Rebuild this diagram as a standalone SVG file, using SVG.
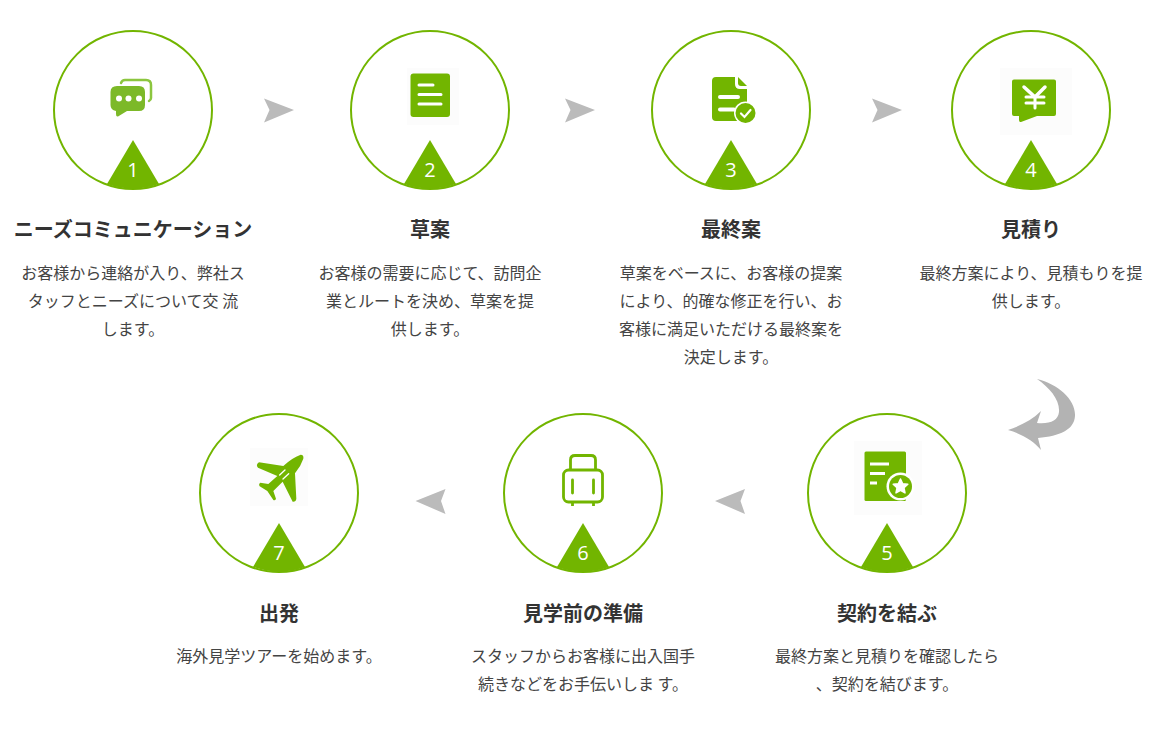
<svg xmlns="http://www.w3.org/2000/svg" width="1160" height="750" viewBox="0 0 1160 750">
<style>
.ring{fill:#fff;stroke:#72b500;stroke-width:2}
.tri{fill:#72b500}
.num{font-family:"Open Sans","Noto Sans",sans-serif;font-size:20px;fill:#fff;text-anchor:middle}
.title{font-family:"Noto Sans CJK JP","Noto Sans CJK SC",sans-serif;font-size:20px;font-weight:700;fill:#333;text-anchor:middle}
.body{font-family:"Noto Sans CJK JP","Noto Sans CJK SC",sans-serif;font-size:16px;fill:#444;text-anchor:middle}
.g{fill:#72b500}
.w{stroke:#fff;fill:none;stroke-linecap:round}
.bg{fill:#fcfcfc}
.arrow{fill:#bbb}
</style>
<defs>
<path id="badge" d="M0 30 L-26 74 A79 79 0 0 0 26 74 Z"/>
<path id="right" d="M264 98.500 L294 110 L264 122.500 L269.500 110 Z"/>
<path id="left" d="M0 0 L30 -12 L25.500 0 L30 13 Z"/>
</defs>
<g id="connectors">
<use href="#right" class="arrow"/>
<use href="#right" class="arrow" x="301"/>
<use href="#right" class="arrow" x="608"/>
<path class="arrow" style="fill:#b3b3b3" d="M1037 379 C1058 384 1076 400 1075 416 C1074 430 1060 436 1038 438 L1041 450 C1034 441 1022 434 1008 430 C1020 426 1032 420 1041 411 L1037 423 C1050 424 1058 421 1059 412 C1060 400 1050 388 1037 379 Z"/>
<use href="#left" class="arrow" x="715" y="501"/>
<use href="#left" class="arrow" x="415.500" y="501"/>
</g>
<g id="node1">
<circle class="ring" cx="133" cy="110" r="79"/>
<use href="#badge" class="tri" x="133" y="110"/>
<text class="num" x="133" y="177">1</text>
<path d="M121 83 Q122 80 125 80 H146 Q151 80 151 85 V98 Q151 100 149 101" fill="none" stroke="#8cc63f" stroke-width="2.500" stroke-linecap="round"/>
<path fill="#7cb928" d="M117 86 H139 Q145 86 145 92 V105 Q145 111 139 111 H127 L118 116.500 Q116 117 116 114 V111 Q110.500 110 110.500 105 V92 Q110.500 86 117 86 Z"/>
<circle cx="119" cy="98.500" r="3" fill="#fff"/><circle cx="128.500" cy="98.500" r="3" fill="#fff"/><circle cx="139" cy="98.500" r="3" fill="#fff"/>
<text class="title" x="133" y="237">ニーズコミュニケーション</text>
<text class="body" x="133" y="279">お客様から連絡が入り、弊社ス</text>
<text class="body" x="133" y="307">タッフとニーズについて交 流</text>
<text class="body" x="133" y="335">します。</text>
</g>
<g id="node2">
<circle class="ring" cx="430" cy="110" r="79"/>
<use href="#badge" class="tri" x="430" y="110"/>
<text class="num" x="430" y="177">2</text>
<rect class="bg" x="407" y="68" width="52" height="57"/>
<rect class="g" x="410.500" y="73.500" width="39.500" height="43.500" rx="3"/>
<path class="w" stroke-width="3" d="M419 85 H433 M419 94.500 H441 M419 104 H441"/>
<text class="title" x="430" y="237">草案</text>
<text class="body" x="430" y="279">お客様の需要に応じて、訪問企</text>
<text class="body" x="430" y="307">業とルートを決め、草案を提</text>
<text class="body" x="430" y="335">供します。</text>
</g>
<g id="node3">
<circle class="ring" cx="731" cy="110" r="79"/>
<use href="#badge" class="tri" x="731" y="110"/>
<text class="num" x="731" y="177">3</text>
<path class="g" d="M716 77 H735 V84 Q735 89 740 89 H747 V121 H716 Q712 121 712 117 V81 Q712 77 716 77 Z"/>
<path class="g" d="M738 77 L747 86 H741 Q738 86 738 83 Z"/>
<path class="w" stroke-width="4" d="M720 97 H738 M720 109.500 H734"/>
<circle cx="745.500" cy="113" r="11.500" fill="#fff"/>
<circle class="g" cx="745.500" cy="113" r="10"/>
<path class="w" stroke-width="2.200" d="M741 113.500 L744.500 117 L750.500 110"/>
<text class="title" x="731" y="237">最終案</text>
<text class="body" x="731" y="279">草案をベースに、お客様の提案</text>
<text class="body" x="731" y="307">により、的確な修正を行い、お</text>
<text class="body" x="731" y="335">客様に満足いただける最終案を</text>
<text class="body" x="731" y="363">決定します。</text>
</g>
<g id="node4">
<circle class="ring" cx="1031" cy="110" r="79"/>
<use href="#badge" class="tri" x="1031" y="110"/>
<text class="num" x="1031" y="177">4</text>
<rect class="bg" x="1000" y="68" width="72" height="67"/>
<path class="g" d="M1014 79.500 H1054 Q1056 79.500 1056 81.500 V114 Q1056 116 1054 116 H1037 L1021 122 Q1019 122.500 1019 120 V116 H1014 Q1012 116 1012 114 V81.500 Q1012 79.500 1014 79.500 Z"/>
<path class="w" stroke-width="3.500" d="M1024 87 L1035 97 L1045 87"/>
<path class="w" stroke-width="3" stroke-linecap="butt" d="M1026 97 H1044 M1026 103 H1044 M1035 97 V108"/>
<text class="title" x="1031" y="237">見積り</text>
<text class="body" x="1031" y="279">最終方案により、見積もりを提</text>
<text class="body" x="1031" y="307">供します。</text>
</g>
<g id="node5">
<circle class="ring" cx="887" cy="493" r="79"/>
<use href="#badge" class="tri" x="887" y="493"/>
<text class="num" x="887" y="560">5</text>
<rect class="bg" x="854" y="441" width="68" height="74"/>
<rect class="g" x="864.500" y="451.500" width="41.500" height="49.500" rx="1.500"/>
<path stroke="#fff" stroke-width="2.800" d="M870 464 H889 M870 473.500 H885 M870 483 H877"/>
<circle cx="900.500" cy="486.500" r="14" fill="#fff"/>
<circle class="g" cx="900.500" cy="486.500" r="11.500"/>
<path fill="#fff" stroke="#fff" stroke-linejoin="round" stroke-width="1.500" d="M900.500 479 L902.700 483.700 L907.800 484.300 L904 487.800 L905 492.900 L900.500 490.400 L896 492.900 L897 487.800 L893.200 484.300 L898.300 483.700 Z"/>
<text class="title" x="887" y="621">契約を結ぶ</text>
<text class="body" x="887" y="662">最終方案と見積りを確認したら</text>
<text class="body" x="887" y="690">、契約を結びます。</text>
</g>
<g id="node6">
<circle class="ring" cx="583" cy="493" r="79"/>
<use href="#badge" class="tri" x="583" y="493"/>
<text class="num" x="583" y="560">6</text>
<g fill="none" stroke="#72b500" stroke-width="2.800">
<rect x="563.500" y="470" width="39" height="32" rx="5"/>
<path d="M570.500 470 V460 Q570.500 455.500 575 455.500 H591 Q595.500 455.500 595.500 460 V470"/>
<path stroke-linecap="round" d="M572.500 480 V493 M593.500 480 V493"/>
<path d="M572.500 502 V506 M593.500 502 V506"/>
</g>
<text class="title" x="583" y="621">見学前の準備</text>
<text class="body" x="583" y="662">スタッフからお客様に出入国手</text>
<text class="body" x="583" y="690">続きなどをお手伝いしま す。</text>
</g>
<g id="node7">
<circle class="ring" cx="279" cy="493" r="79"/>
<use href="#badge" class="tri" x="279" y="493"/>
<text class="num" x="279" y="560">7</text>
<rect class="bg" x="250" y="448" width="58" height="58"/>
<g transform="translate(190 410) scale(.3333)">
<path class="g" d="M332 134 Q342 134 340 146 Q332 170 315 190 L319 266 Q318 276 308 275 L278 215 L250 243 L258 266 Q256 272 250 270 L232 243 L209 229 Q205 222 211 218 L235 222 L262 198 L204 173 Q196 165 207 157 L280 168 Q305 144 332 134 Z"/>
<path class="w" stroke-width="4" d="M269 195 L285 180 M279 207 L296 191"/>
</g>
<text class="title" x="279" y="621">出発</text>
<text class="body" x="279" y="662">海外見学ツアーを始めます。</text>
</g>
</svg>
